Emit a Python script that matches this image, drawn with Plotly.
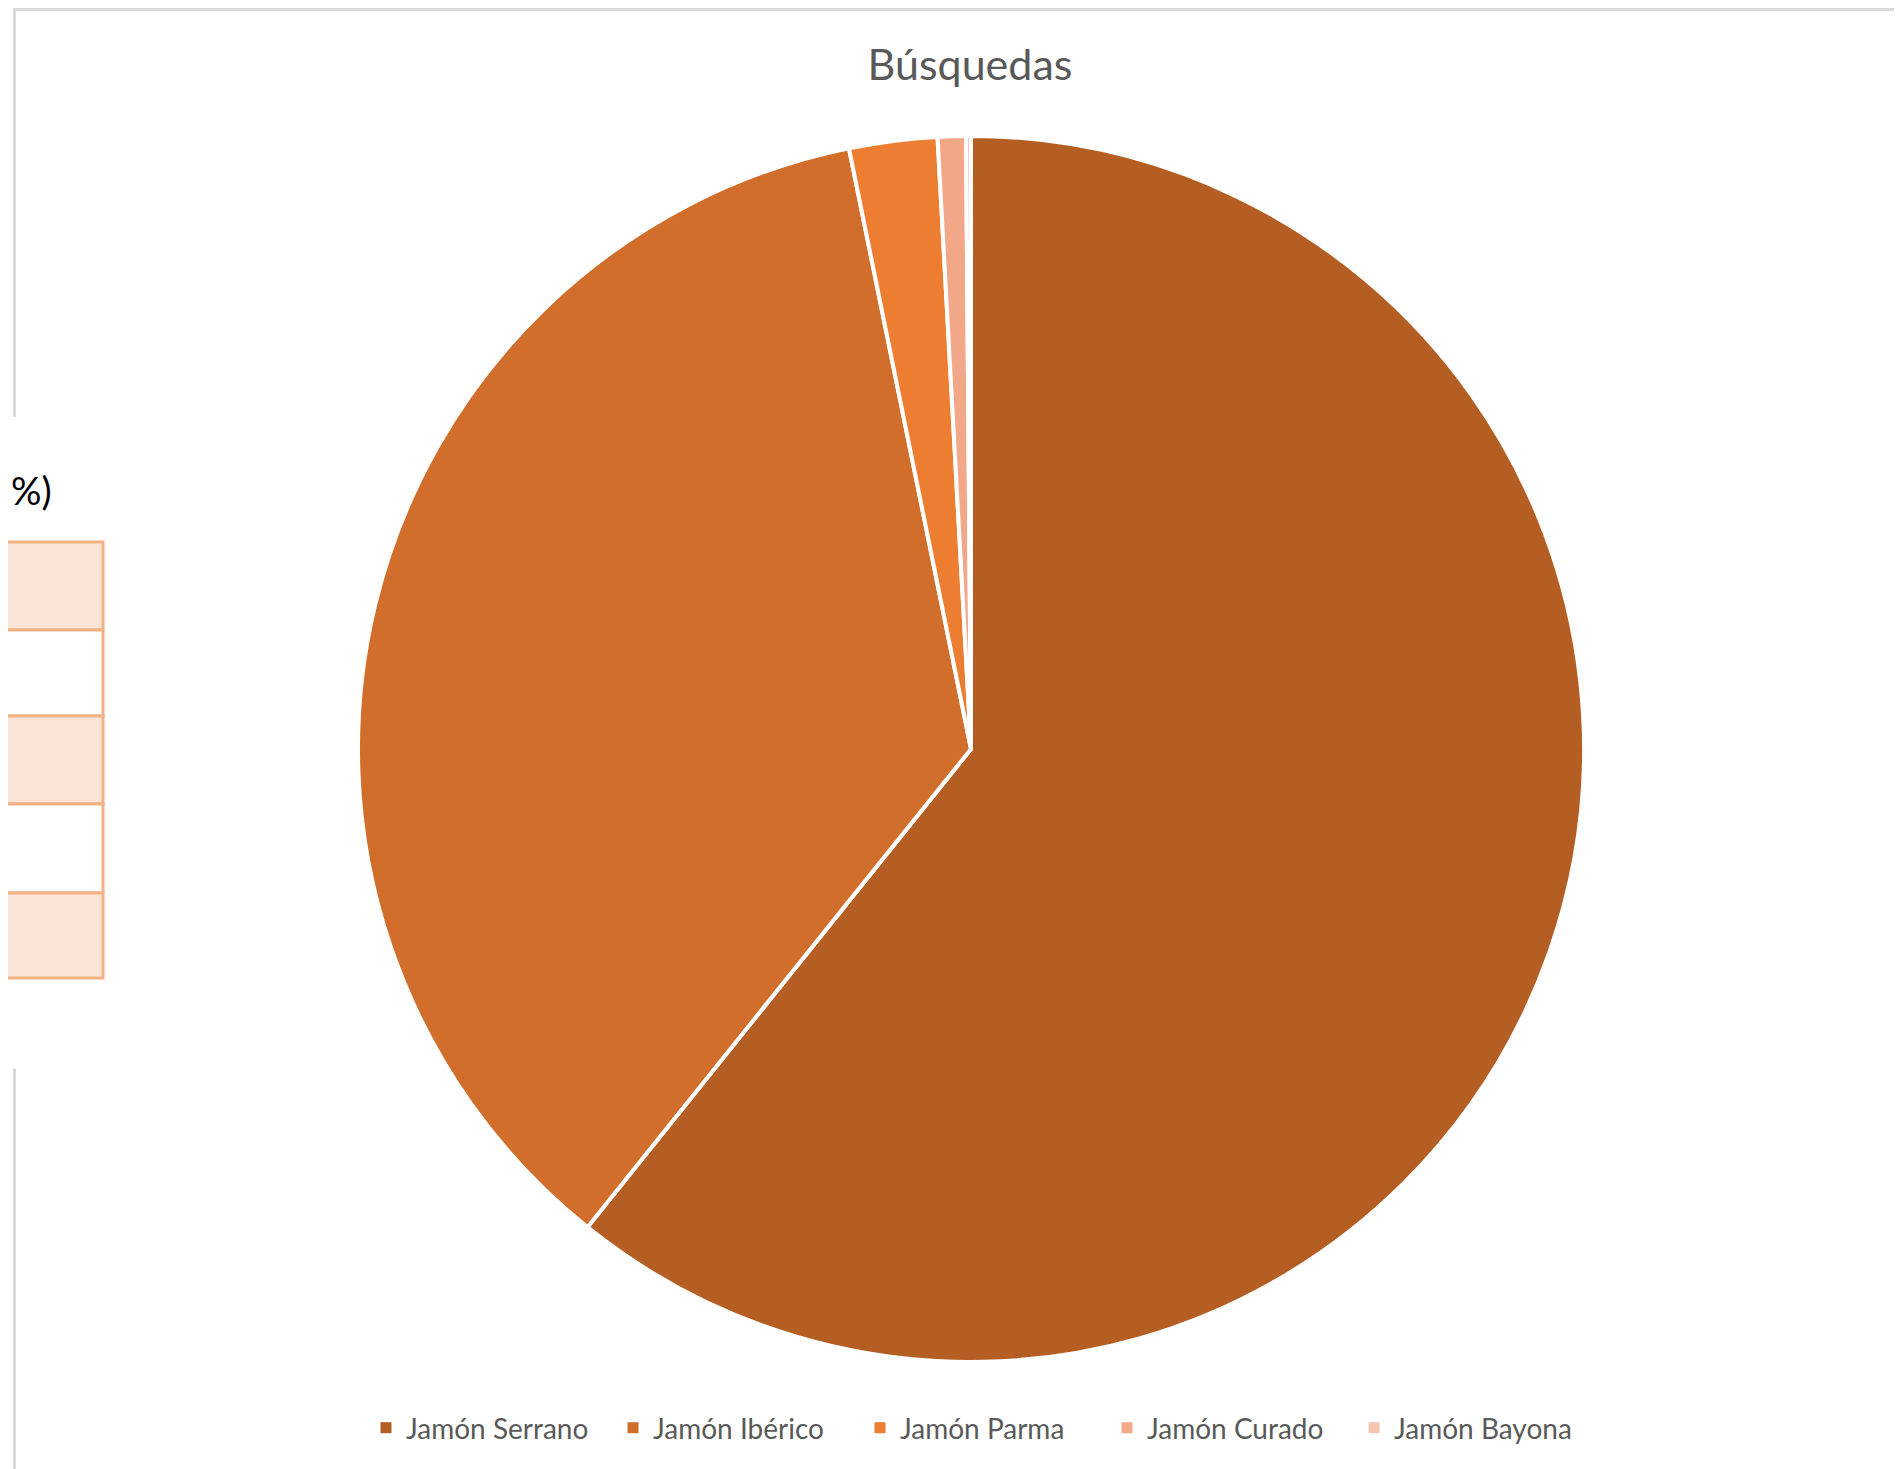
import plotly.graph_objects as go

# Chart data (share of searches)
labels = ['Jamón Serrano', 'Jamón Ibérico', 'Jamón Parma', 'Jamón Curado', 'Jamón Bayona']
busquedas = [60.76, 36.05, 2.32, 0.74, 0.13]
colors = ['#B45E23', '#D26E2B', '#ED7D31', '#F2A888', '#F7C6B0']

# the page puts the figure 8px in from the top-left corner
OFF = 8
W, H = 1902 - OFF, 1469 - OFF


# screen pixel -> paper coords
def px(x):
    return (x - OFF) / W


def py(y):
    return 1 - (y - OFF) / H


fig = go.Figure()

R = 613
fig.add_trace(go.Pie(
    labels=labels,
    values=busquedas,
    sort=False,
    direction='clockwise',
    rotation=0,
    textinfo='none',
    showlegend=False,
    marker=dict(colors=colors, line=dict(color='white', width=4)),
    domain=dict(x=[px(971 - R), px(971 + R)], y=[py(749 + R), py(749 - R)]),
))

# legend entries with Excel-sized square keys
for name, c in zip(labels, colors):
    fig.add_trace(go.Scatter(
        x=[None], y=[None], mode='markers', name=name,
        marker=dict(symbol='square', size=11, color=c),
        hoverinfo='skip',
    ))

# sheet table peeking out at the left edge
row_edges = [542, 630, 716, 804, 893, 978]
for i in range(5):
    fig.add_shape(type='rect', xref='paper', yref='paper',
                  x0=px(-5), x1=px(103), y0=py(row_edges[i + 1]), y1=py(row_edges[i]),
                  fillcolor='#FBE5D6' if i % 2 == 0 else 'white',
                  line=dict(color='#F4B183', width=3), layer='below')

# chart frame (grey border)
frame = dict(color='#D9D9D9', width=3)
fig.add_shape(type='line', xref='paper', yref='paper', x0=px(14.5), x1=px(1905), y0=py(9.5), y1=py(9.5), line=frame)
fig.add_shape(type='line', xref='paper', yref='paper', x0=px(14.5), x1=px(14.5), y0=py(8), y1=py(417), line=frame)
fig.add_shape(type='line', xref='paper', yref='paper', x0=px(14.5), x1=px(14.5), y0=py(1069), y1=py(1472), line=frame)

fig.add_annotation(text='%)', xref='paper', yref='paper', x=px(54), y=py(490),
                   xanchor='right', yanchor='middle', showarrow=False,
                   font=dict(family='Lato, sans-serif', size=38, color='black'))

fig.update_layout(
    width=W, height=H,
    margin=dict(l=0, r=0, t=0, b=0),
    paper_bgcolor='white',
    plot_bgcolor='white',
    font=dict(family='Lato, sans-serif', color='#595959'),
    xaxis=dict(visible=False),
    yaxis=dict(visible=False),
    title=dict(text='Búsquedas', x=px(970), y=py(65), xanchor='center', yanchor='middle',
               xref='paper', yref='container',
               font=dict(family='Lato, sans-serif', size=43, color='#595959')),
    showlegend=True,
    legend=dict(orientation='h', x=px(366), y=py(1428), xanchor='left', yanchor='middle',
                font=dict(family='Lato, sans-serif', size=28, color='#595959'),
                entrywidth=202, entrywidthmode='pixels', bgcolor='rgba(0,0,0,0)'),
)

fig.write_html("out.html")
